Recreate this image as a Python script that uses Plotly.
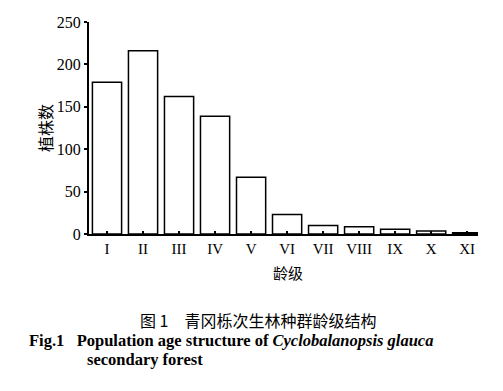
import plotly.graph_objects as go

categories = ["I", "II", "III", "IV", "V", "VI", "VII", "VIII", "IX", "X", "XI"]
counts = [179, 216, 162, 139, 67, 23, 10, 8.5, 5.5, 3.5, 1.5]
y_ticks = [0, 50, 100, 150, 200, 250]

L, R, T, B = 89, 25, 22, 157
W, H = 503, 391
pw, ph = W - L - R, H - T - B

def px(x):
    return (x - L) / pw

def py(y):
    return (H - B - y) / ph

fig = go.Figure()
fig.add_trace(go.Bar(
    x=list(range(len(categories))), y=counts,
    marker=dict(color="white", line=dict(color="black", width=1.5)),
    width=0.81,
))

serif = "Liberation Serif, Times New Roman, serif"
cjk = "Noto Sans CJK SC"

fig.update_layout(
    width=W, height=H,
    margin=dict(l=L, r=R, t=T, b=B),
    paper_bgcolor="white", plot_bgcolor="white",
    showlegend=False,
    xaxis=dict(
        range=[-0.5, 10.3], tickmode="array",
        tickvals=list(range(len(categories))), ticktext=categories,
        ticks="inside", ticklen=3, tickwidth=1.5, tickcolor="black",
        showline=True, linecolor="black", linewidth=2,
        showgrid=False, zeroline=False,
        tickfont=dict(family=serif, size=15, color="black"),
    ),
    yaxis=dict(
        range=[0, 250], tickmode="array", tickvals=y_ticks,
        ticks="outside", ticklen=3, tickwidth=1.5, tickcolor="black",
        showline=True, linecolor="black", linewidth=2,
        showgrid=False, zeroline=False,
        tickfont=dict(family=serif, size=16, color="black"),
    ),
    font=dict(family=serif, color="black"),
)

annos = [
    dict(text="植株数", x=px(45), y=py(128), textangle=-90,
         font=dict(family=cjk, size=16), xanchor="center", yanchor="middle"),
    dict(text="龄级", x=px(288), y=py(272),
         font=dict(family=cjk, size=15), xanchor="center", yanchor="middle"),
    dict(text="图 1　青冈栎次生林种群龄级结构", x=px(258), y=py(320),
         font=dict(family=cjk, size=16), xanchor="center", yanchor="middle"),
    dict(text="<b>Fig.1   Population age structure of <i>Cyclobalanopsis glauca</i></b>",
         x=px(27), y=py(340),
         font=dict(family=serif, size=16.5), xanchor="left", yanchor="middle"),
    dict(text="<b>secondary forest</b>", x=px(85), y=py(359),
         font=dict(family=serif, size=16.5), xanchor="left", yanchor="middle"),
]
for a in annos:
    a.update(xref="paper", yref="paper", showarrow=False)
    fig.add_annotation(**a)

fig.write_html("out.html", config={"displayModeBar": False},
               post_script="document.body.style.margin='0';")
